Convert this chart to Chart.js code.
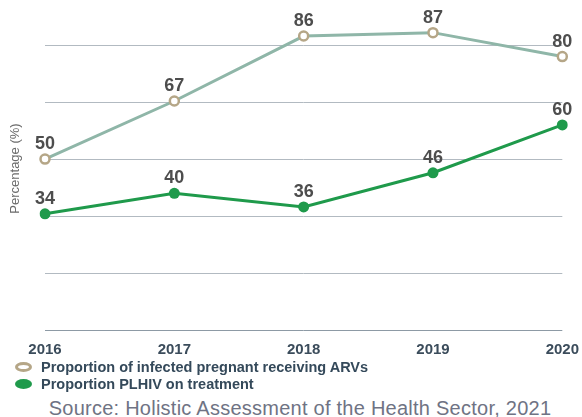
<!DOCTYPE html>
<html>
<head>
<meta charset="utf-8">
<script src="https://cdn.jsdelivr.net/npm/chart.js@4.4.1/dist/chart.umd.min.js"></script>
<style>
    body { margin: 0; background: #fff; font-family: "Liberation Sans", Arial, sans-serif; }
    #wrap { position: relative; width: 582px; height: 417px; overflow: hidden; }
    #chartBox { position: absolute; left: 0; top: 0; }
    .legendItem { position: absolute; left: 0; height: 17px; line-height: 17px; white-space: nowrap; }
    .legendMark { position: absolute; left: 15px; top: 3px; width: 17px; height: 10px; box-sizing: border-box; border-radius: 50%; }
    .legendText { position: absolute; left: 41px; top: 0; font-weight: bold; font-size: 14.5px; color: #34495a; }
    #source { position: absolute; left: 0; top: 397px; width: 600px; text-align: center; font-size: 20px; line-height: 22px; letter-spacing: 0.25px; color: #6f7384; white-space: nowrap; }
</style>
</head>
<body>
<div id="wrap">
    <canvas id="chartBox" width="582" height="365"></canvas>
    <div id="legend"></div>
    <div id="source">Source: Holistic Assessment of the Health Sector, 2021</div>
</div>

<script>
// ---- data ----
const years = ["2016", "2017", "2018", "2019", "2020"];
const pregnantArv = [50, 67, 86, 87, 80];
const plhivTreatment = [34, 40, 36, 46, 60];
const gridValues = [0, 100 / 6, 200 / 6, 50, 400 / 6, 500 / 6];

// value labels above each point
const valueLabels = {
    id: "valueLabels",
    afterDatasetsDraw(chart) {
        const ctx = chart.ctx;
        ctx.save();
        ctx.font = 'bold 18px "Liberation Sans", Arial, sans-serif';
        ctx.fillStyle = "#4d4d4d";
        ctx.textAlign = "center";
        ctx.textBaseline = "middle";
        chart.data.datasets.forEach((ds, i) => {
            chart.getDatasetMeta(i).data.forEach((pt, j) => {
                ctx.fillText(ds.data[j], pt.x, pt.y - 15);
            });
        });
        ctx.restore();
    }
};

const chart = new Chart(document.getElementById("chartBox"), {
    type: "line",
    data: {
        labels: years,
        datasets: [
            {
                label: "Proportion of infected pregnant receiving ARVs",
                data: pregnantArv,
                borderColor: "#8fb6a8",
                borderWidth: 3,
                pointRadius: 4.5,
                pointHoverRadius: 4.5,
                pointBackgroundColor: "#ffffff",
                pointBorderColor: "#b5a687",
                pointBorderWidth: 2.5,
                tension: 0,
                fill: false
            },
            {
                label: "Proportion PLHIV on treatment",
                data: plhivTreatment,
                borderColor: "#1f9a4b",
                borderWidth: 3,
                pointRadius: 5.5,
                pointHoverRadius: 5.5,
                pointBackgroundColor: "#1f9a4b",
                pointBorderColor: "#1f9a4b",
                pointBorderWidth: 0,
                tension: 0,
                fill: false
            }
        ]
    },
    options: {
        responsive: false,
        animation: false,
        devicePixelRatio: 1,
        layout: { padding: { top: 2, right: 19, bottom: 3, left: 0 } },
        plugins: {
            legend: { display: false },
            tooltip: { enabled: false }
        },
        scales: {
            x: {
                offset: false,
                grid: { display: false },
                border: { display: false },
                ticks: {
                    color: "#3b4c5b",
                    padding: 3,
                    font: { family: '"Liberation Sans", Arial, sans-serif', size: 15, weight: "bold" }
                }
            },
            y: {
                min: 0,
                max: 94.5,
                afterBuildTicks(scale) {
                    scale.ticks = gridValues.map(v => ({ value: v }));
                },
                afterFit(scale) {
                    scale.width = 45;
                },
                ticks: { display: false },
                border: { display: false },
                grid: {
                    drawTicks: false,
                    lineWidth: 1,
                    color: ctx => (ctx.tick && ctx.tick.value === 0 ? "#8d9aa5" : "#b2bac1")
                },
                title: {
                    display: true,
                    text: "Percentage (%)",
                    color: "#6b6b6b",
                    padding: { top: 8, bottom: 0 },
                    font: { family: '"Liberation Sans", Arial, sans-serif', size: 13 }
                }
            }
        }
    },
    plugins: [valueLabels]
});

// ---- legend built from the datasets ----
const legend = document.getElementById("legend");
const rowTops = [359, 376];

chart.data.datasets.forEach((ds, i) => {
    const item = document.createElement("div");
    item.className = "legendItem";
    item.style.top = rowTops[i] + "px";

    const mark = document.createElement("span");
    mark.className = "legendMark";
    if (ds.pointBackgroundColor === "#ffffff") {
        mark.style.border = "3px solid " + ds.pointBorderColor;
        mark.style.background = "#fff";
    } else {
        mark.style.background = ds.pointBackgroundColor;
    }

    const text = document.createElement("span");
    text.className = "legendText";
    text.textContent = ds.label;

    item.appendChild(mark);
    item.appendChild(text);
    legend.appendChild(item);
});
</script>
</body>
</html>
